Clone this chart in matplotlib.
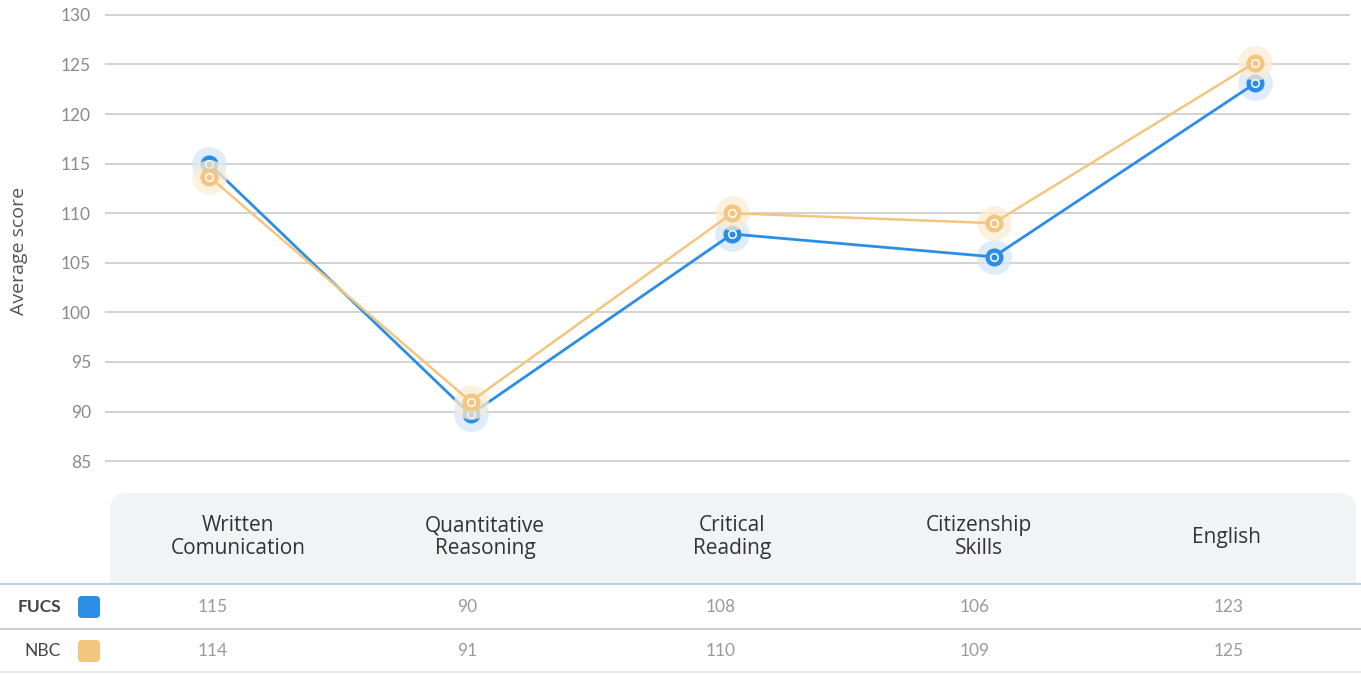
"""
Average score by competency, FUCS vs NBC: line chart with a data table below.
"""
import matplotlib.pyplot as plt
from matplotlib.patches import FancyBboxPatch, Rectangle

categories = [
    "Written\nComunication",
    "Quantitative\nReasoning",
    "Critical\nReading",
    "Citizenship\nSkills",
    "English",
]
fucs_scores = [115.0, 89.7, 107.9, 105.6, 123.1]
nbc_scores = [113.7, 91.0, 110.0, 109.0, 125.2]
series_names = ["FUCS", "NBC"]
y_ticks = [85, 90, 95, 100, 105, 110, 115, 120, 125, 130]

BLUE = "#2b8ee6"
BLUE_HALO = "#d3e6fa"
ORANGE = "#f4c57f"
ORANGE_HALO = "#fcecd3"
W, H = 1361, 674

plt.rcParams["font.family"] = ["Lato", "DejaVu Sans"]

fig = plt.figure(figsize=(W / 100, H / 100), dpi=100)


def fx(px):
    return px / W


def fy(py):
    return 1 - py / H


# plot area: x from 105 to 1350 px, y 130 at 15 px and 85 at 461 px
ax = fig.add_axes([fx(105), fy(471), fx(1350) - fx(105), fy(5) - fy(471)])
ax.set_ylim(84, 131)
ax.set_xlim(-0.398, 4.363)
for s in ax.spines.values():
    s.set_visible(False)
ax.set_xticks([])
ax.set_yticks(y_ticks)
ax.tick_params(axis="y", length=0, pad=10, labelsize=12.5, labelcolor="#8a8a8a")
for t in y_ticks:
    ax.axhline(t, color="#cfcfcf", lw=1.3, zorder=0)
ax.set_ylabel("Average score", fontsize=14, color="#555555", family=["Open Sans"])
ax.yaxis.set_label_coords(-0.0616, 0.472)

xs = range(len(categories))
for vals, col, halo, lw, z in [
    (fucs_scores, BLUE, BLUE_HALO, 2.0, 3),
    (nbc_scores, ORANGE, ORANGE_HALO, 1.8, 4),
]:
    ax.plot(xs, vals, color=col, lw=lw, zorder=z, solid_capstyle="round")
    ax.plot(xs, vals, "o", ms=25, color=halo, alpha=0.75, mec="none", zorder=z - 0.5)
    ax.plot(xs, vals, "o", ms=13, color=col, mec="none", zorder=z + 0.1)
    ax.plot(xs, vals, "o", ms=5.5, mfc="none", mec="white", mew=1.1, zorder=z + 0.2)
    ax.plot(xs, vals, "o", ms=1.5, color=col, mec="none", zorder=z + 0.3)

# header band of the table
band = FancyBboxPatch(
    (fx(110), fy(583)), fx(1356) - fx(110), fy(493) - fy(583),
    boxstyle="round,pad=0,rounding_size=0.012", transform=fig.transFigure,
    facecolor="#f2f3f5", edgecolor="none", mutation_aspect=W / H,
)
fig.patches.append(band)
fig.patches.append(Rectangle((fx(110), fy(583)), fx(1356) - fx(110), fy(560) - fy(583),
                             transform=fig.transFigure, facecolor="#f2f3f5", edgecolor="none"))

for i, cat in enumerate(categories):
    fig.text(fx(238 + 247 * i), fy(537), cat, ha="center", va="center",
             fontsize=15, color="#333333", linespacing=1.1, family=["Open Sans"])

# table rules
fig.add_artist(plt.Line2D([0, fx(1361)], [fy(584), fy(584)], color="#b9d0e8", lw=1.5))
fig.add_artist(plt.Line2D([0, fx(1361)], [fy(629), fy(629)], color="#cfcfcf", lw=1.5))
fig.add_artist(plt.Line2D([0, fx(1361)], [fy(672), fy(672)], color="#e6e6e6", lw=1.2))

rows = [(fucs_scores, BLUE, "bold", 607), (nbc_scores, ORANGE, "normal", 651)]
for name, (vals, col, weight, ypx) in zip(series_names, rows):
    fig.text(fx(61), fy(ypx), name, ha="right", va="center", fontsize=12.5,
             color="#444444", fontweight=weight)
    fig.patches.append(FancyBboxPatch(
        (fx(78), fy(ypx + 11)), fx(100) - fx(78), fy(ypx - 11) - fy(ypx + 11),
        boxstyle="round,pad=0,rounding_size=0.003", transform=fig.transFigure,
        facecolor=col, edgecolor="none", mutation_aspect=W / H))
    for i, v in enumerate(vals):
        fig.text(fx(213 + 254 * i), fy(ypx), f"{round(v)}", ha="center", va="center",
                 fontsize=12.5, color="#9a9a9a")

fig.savefig("out.png", dpi=100, facecolor="white")
